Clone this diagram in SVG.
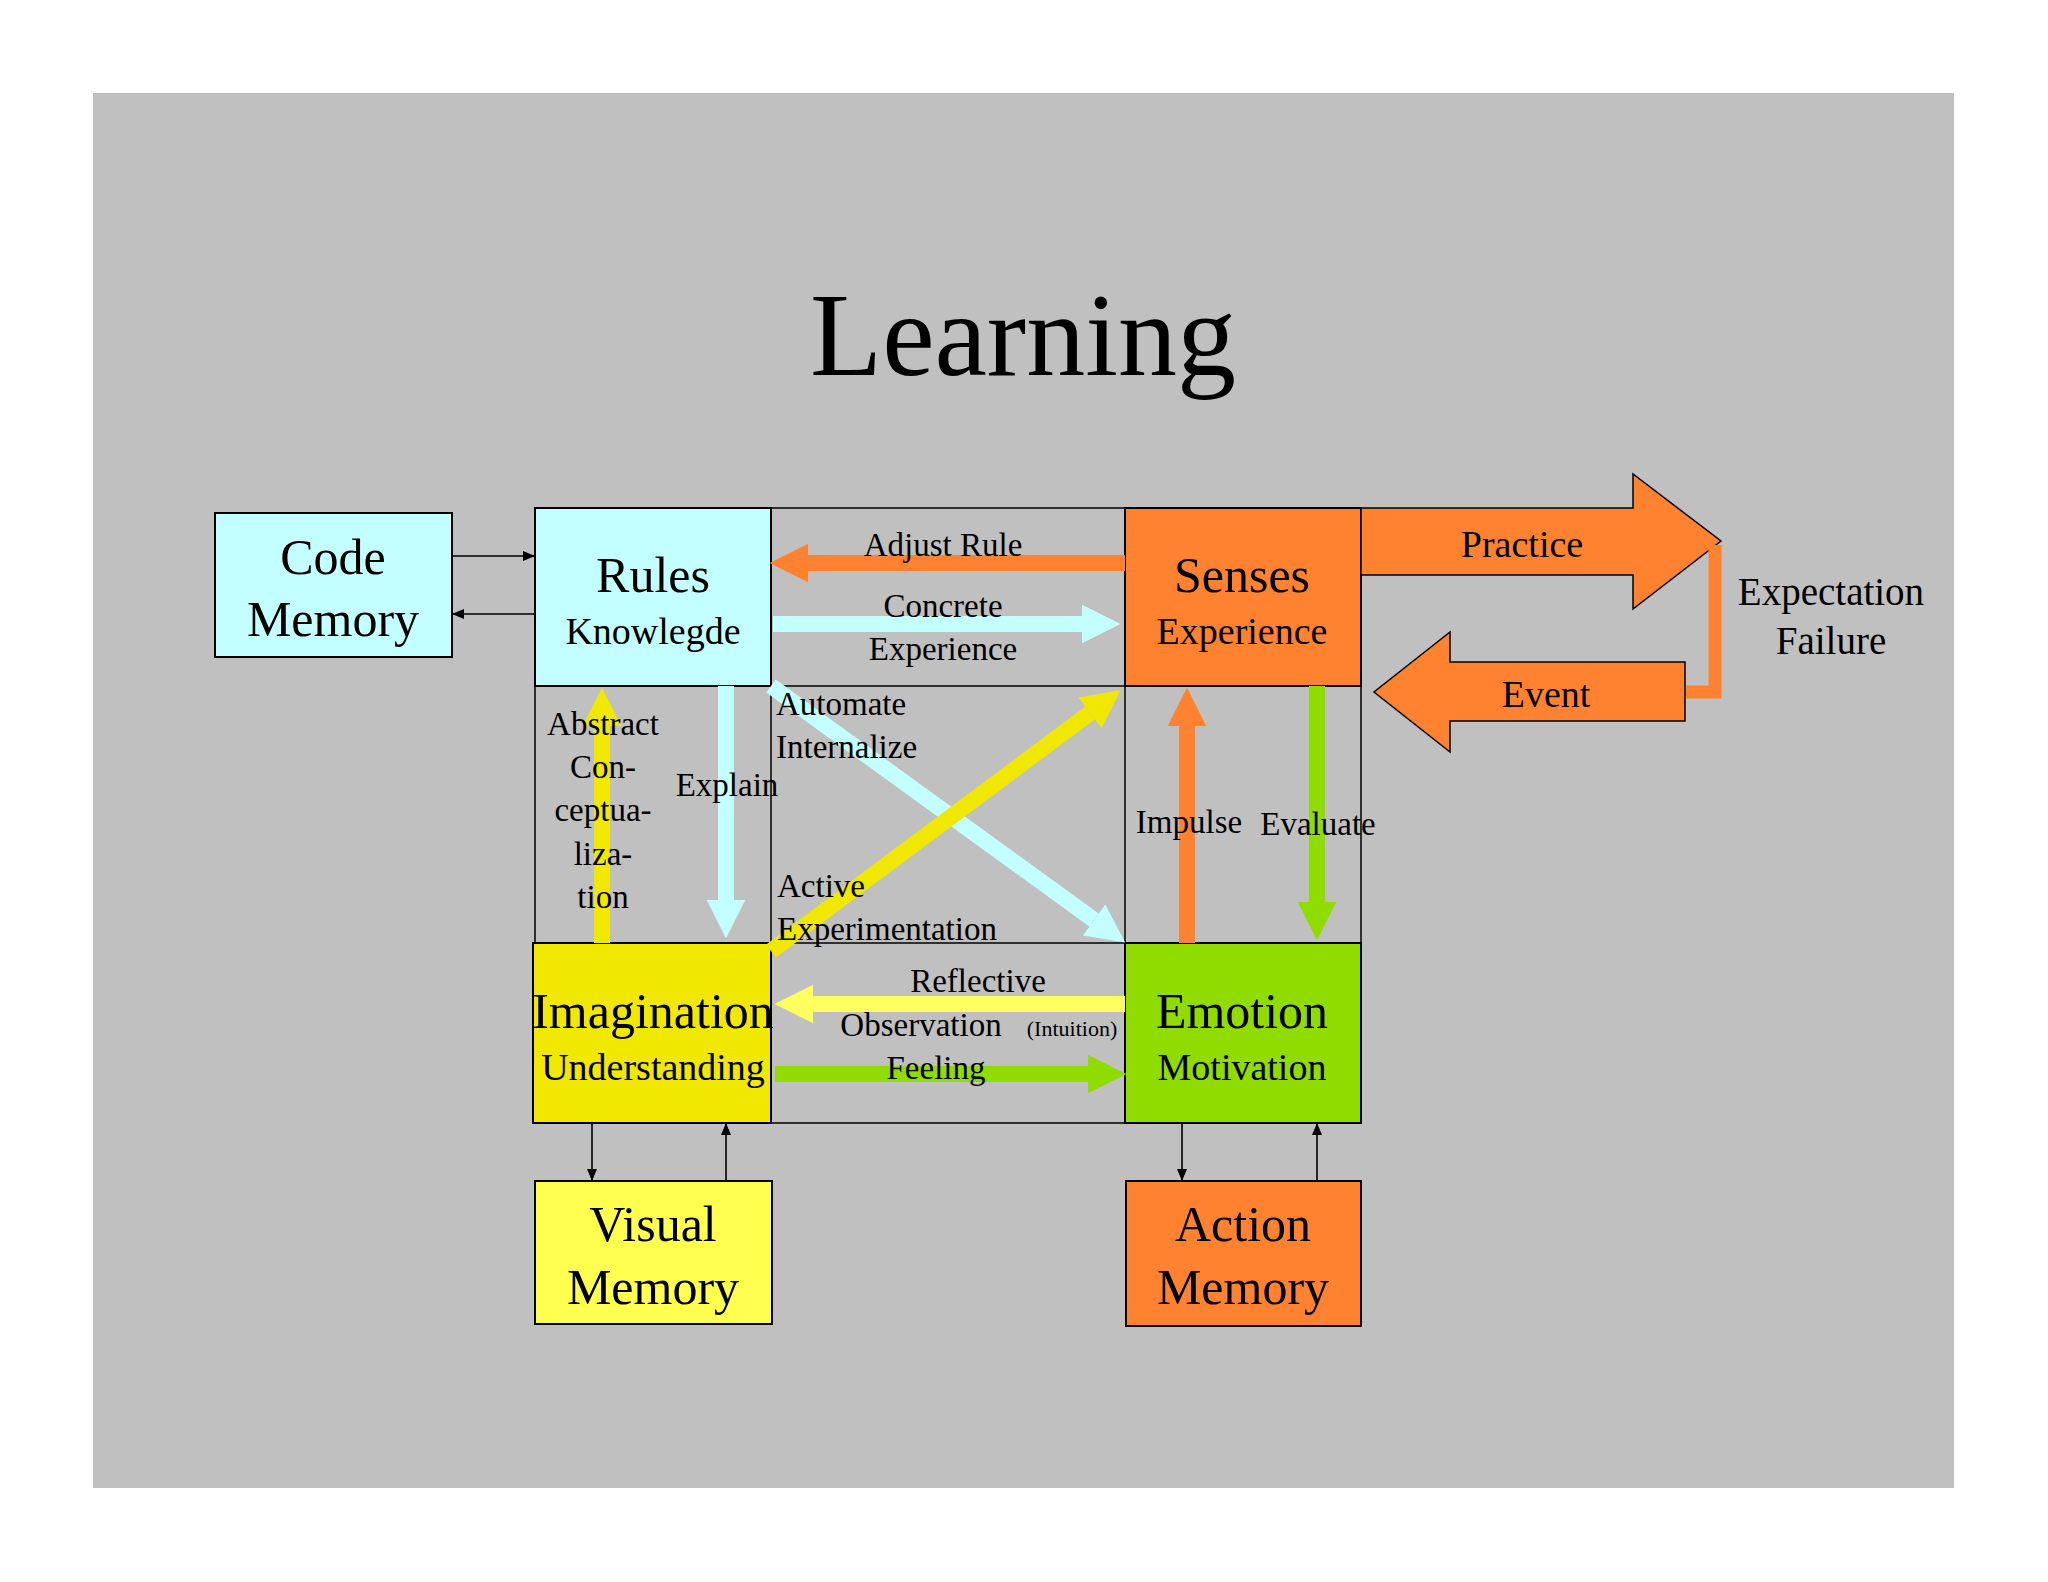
<svg xmlns="http://www.w3.org/2000/svg" width="2048" height="1582" viewBox="0 0 2048 1582">
<defs>
<style>
text{font-family:"Liberation Serif","Times New Roman",serif;fill:#000}
.box{stroke:#000;stroke-width:2}
.big{font-size:50px;text-anchor:middle}
.mid{font-size:38px;text-anchor:middle}
.lab{font-size:33px}
.c{text-anchor:middle}
.th{stroke-width:16;fill:none}
.thin{stroke:#000;stroke-width:1.6;fill:none;marker-end:url(#mk)}
</style>
<marker id="mk" markerUnits="userSpaceOnUse" markerWidth="12" markerHeight="12" viewBox="0 0 12 12" refX="12" refY="6" orient="auto"><path d="M0,1 L12,6 L0,11z" fill="#000"/></marker>
<marker id="mO" markerUnits="strokeWidth" markerWidth="2.4" markerHeight="2.4" viewBox="0 0 2.4 2.4" refX="0" refY="1.2" orient="auto"><path d="M0,0 L2.4,1.2 L0,2.4z" fill="#FF8230"/></marker>
<marker id="mC" markerUnits="strokeWidth" markerWidth="2.4" markerHeight="2.4" viewBox="0 0 2.4 2.4" refX="0" refY="1.2" orient="auto"><path d="M0,0 L2.4,1.2 L0,2.4z" fill="#C4FFFF"/></marker>
<marker id="mY" markerUnits="strokeWidth" markerWidth="2.4" markerHeight="2.4" viewBox="0 0 2.4 2.4" refX="0" refY="1.2" orient="auto"><path d="M0,0 L2.4,1.2 L0,2.4z" fill="#F0E800"/></marker>
<marker id="mL" markerUnits="strokeWidth" markerWidth="2.4" markerHeight="2.4" viewBox="0 0 2.4 2.4" refX="0" refY="1.2" orient="auto"><path d="M0,0 L2.4,1.2 L0,2.4z" fill="#FFFF60"/></marker>
<marker id="mG" markerUnits="strokeWidth" markerWidth="2.4" markerHeight="2.4" viewBox="0 0 2.4 2.4" refX="0" refY="1.2" orient="auto"><path d="M0,0 L2.4,1.2 L0,2.4z" fill="#90DC00"/></marker>
</defs>
<rect width="2048" height="1582" fill="#fff"/>
<rect x="93" y="93" width="1861" height="1395" fill="#C0C0C0"/>
<text x="1023" y="375" font-size="118" text-anchor="middle">Learning</text>

<g id="grid" fill="none" stroke="#000" stroke-width="1.5">
<rect x="535" y="508" width="826" height="615"/>
<line x1="771" y1="508" x2="771" y2="1123"/>
<line x1="1125" y1="508" x2="1125" y2="1123"/>
<line x1="535" y1="686" x2="1361" y2="686"/>
<line x1="535" y1="943" x2="1361" y2="943"/>
</g>

<g id="code-memory"><rect class="box" x="215" y="513" width="237" height="144" fill="#C4FFFF"/><text class="big" x="333" y="574">Code</text><text class="big" x="333" y="636">Memory</text></g>
<g id="rules"><rect class="box" x="535" y="508" width="236" height="178" fill="#C4FFFF"/><text class="big" x="653" y="592">Rules</text><text class="mid" x="653" y="644">Knowlegde</text></g>
<g id="senses"><rect class="box" x="1125" y="508" width="236" height="178" fill="#FF8230"/><text class="big" x="1242" y="592">Senses</text><text class="mid" x="1242" y="644">Experience</text></g>
<g id="imagination"><rect class="box" x="533" y="943" width="238" height="180" fill="#F0E800"/><text class="big" x="653" y="1028">Imagination</text><text class="mid" x="653" y="1080">Understanding</text></g>
<g id="emotion"><rect class="box" x="1125" y="943" width="236" height="180" fill="#90DC00"/><text class="big" x="1242" y="1028">Emotion</text><text class="mid" x="1242" y="1080">Motivation</text></g>
<g id="visual-memory"><rect class="box" x="535" y="1181" width="237" height="143" fill="#FFFF50"/><text class="big" x="653" y="1241">Visual</text><text class="big" x="653" y="1304">Memory</text></g>
<g id="action-memory"><rect class="box" x="1126" y="1181" width="235" height="145" fill="#FF8230"/><text class="big" x="1243" y="1241">Action</text><text class="big" x="1243" y="1304">Memory</text></g>

<g id="practice"><path d="M1361,508 L1633,508 L1633,474 L1721,541 L1633,609 L1633,575 L1361,575z" fill="#FF8230" stroke="#000" stroke-width="1.5"/><text class="mid" x="1522" y="557">Practice</text></g>
<g id="event"><path d="M1685,662 L1450,662 L1450,632 L1374,692 L1450,752 L1450,721 L1685,721z" fill="#FF8230" stroke="#000" stroke-width="1.5"/><text class="mid" x="1546" y="707">Event</text></g>

<g id="connectors">
<path d="M1715,545 L1715,692 L1686,692" stroke="#FF8230" stroke-width="13" fill="none"/>
<line class="th" stroke="#FF8230" x1="1125" y1="563" x2="808" y2="563" marker-end="url(#mO)"/>
<line class="th" stroke="#C4FFFF" x1="773" y1="624" x2="1082" y2="624" marker-end="url(#mC)"/>
<line class="th" stroke="#C4FFFF" x1="726" y1="686" x2="726" y2="900" marker-end="url(#mC)"/>
<line class="th" stroke="#F0E800" x1="602" y1="943" x2="602" y2="726" marker-end="url(#mY)"/>
<line class="th" stroke="#C4FFFF" x1="771" y1="686" x2="1094" y2="920" marker-end="url(#mC)"/>
<line class="th" stroke="#F0E800" x1="771" y1="951" x2="1090" y2="713" marker-end="url(#mY)"/>
<line class="th" stroke="#FF8230" x1="1187" y1="943" x2="1187" y2="726" marker-end="url(#mO)"/>
<line class="th" stroke="#90DC00" x1="1317" y1="686" x2="1317" y2="902" marker-end="url(#mG)"/>
<line class="th" stroke="#FFFF60" x1="1125" y1="1004" x2="813" y2="1004" marker-end="url(#mL)"/>
<line class="th" stroke="#90DC00" x1="775" y1="1074" x2="1088" y2="1074" marker-end="url(#mG)"/>
<line class="thin" x1="452" y1="556" x2="535" y2="556"/>
<line class="thin" x1="535" y1="614" x2="452" y2="614"/>
<line class="thin" x1="592" y1="1123" x2="592" y2="1181"/>
<line class="thin" x1="726" y1="1181" x2="726" y2="1123"/>
<line class="thin" x1="1182" y1="1123" x2="1182" y2="1181"/>
<line class="thin" x1="1317" y1="1181" x2="1317" y2="1123"/>
</g>

<g id="labels" class="lab">
<text class="c" x="943" y="556">Adjust Rule</text>
<text class="c" x="943" y="617">Concrete</text>
<text class="c" x="943" y="660">Experience</text>
<text x="776" y="715">Automate</text>
<text x="776" y="758">Internalize</text>
<text class="c" x="727" y="796">Explain</text>
<text class="c" x="603" y="735">Abstract</text>
<text class="c" x="603" y="778">Con-</text>
<text class="c" x="603" y="821">ceptua-</text>
<text class="c" x="603" y="865">liza-</text>
<text class="c" x="603" y="908">tion</text>
<text x="777" y="897">Active</text>
<text x="777" y="940">Experimentation</text>
<text class="c" x="1189" y="833">Impulse</text>
<text class="c" x="1318" y="835">Evaluate</text>
<text class="c" x="978" y="992">Reflective</text>
<text class="c" x="921" y="1036">Observation</text>
<text class="c" x="1072" y="1036" font-size="22">(Intuition)</text>
<text class="c" x="936" y="1079">Feeling</text>
<text class="c" x="1831" y="605" font-size="39">Expectation</text>
<text class="c" x="1831" y="654" font-size="39">Failure</text>
</g>
</svg>
